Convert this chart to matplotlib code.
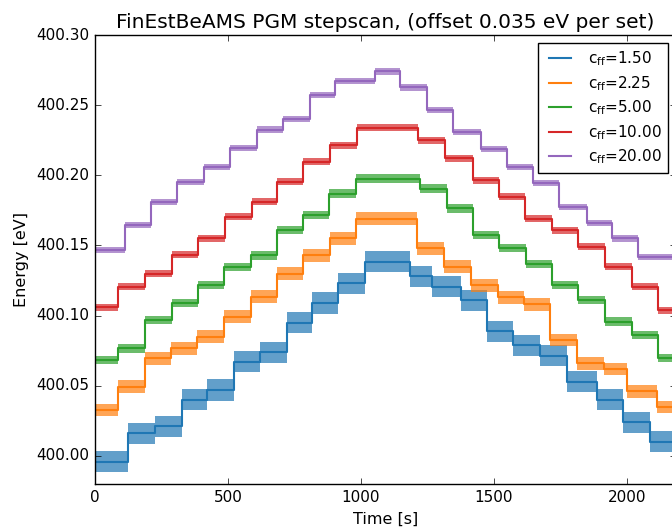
import matplotlib
matplotlib.use('Agg')
import matplotlib.pyplot as plt
from matplotlib.ticker import FormatStrFormatter
import numpy as np

# step start times [s] and energy levels [eV], one set per c_ff
t_end = 2190

t_150 = [124, 225, 327, 421, 522, 620, 722, 816, 913, 1015, 1184, 1268, 1376, 1474, 1571, 1673, 1774, 1887, 1985, 2086]
e_150 = [399.996, 400.016, 400.021, 400.040, 400.047, 400.067, 400.074, 400.095, 400.109, 400.123, 400.1385,
         400.128, 400.1206, 400.111, 400.089, 400.079, 400.0715, 400.053, 400.040, 400.024, 400.010]

t_225 = [87, 188, 285, 383, 485, 586, 684, 782, 883, 981, 1210, 1312, 1413, 1515, 1613, 1710, 1812, 1913, 2000, 2112]
e_225 = [400.0328, 400.0494, 400.0696, 400.0767, 400.085, 400.0992, 400.1135, 400.130, 400.143, 400.155, 400.169,
         400.148, 400.1348, 400.1215, 400.113, 400.108, 400.0826, 400.066, 400.062, 400.046, 400.035]

t_500 = [87, 188, 289, 387, 485, 586, 684, 782, 880, 981, 1222, 1323, 1421, 1519, 1620, 1718, 1816, 1917, 2019, 2116]
e_500 = [400.0684, 400.0767, 400.0969, 400.1088, 400.1218, 400.1348, 400.143, 400.161, 400.1717, 400.187, 400.1977,
         400.1905, 400.1764, 400.1575, 400.148, 400.137, 400.1218, 400.111, 400.0957, 400.086, 400.0696]

t_1000 = [87, 188, 289, 387, 489, 590, 684, 782, 883, 985, 1214, 1316, 1421, 1519, 1616, 1718, 1816, 1917, 2019, 2116]
e_1000 = [400.106, 400.1206, 400.130, 400.1435, 400.155, 400.1705, 400.181, 400.1954, 400.2096, 400.2215, 400.234,
          400.225, 400.212, 400.1966, 400.1847, 400.169, 400.161, 400.149, 400.135, 400.1206, 400.104]

t_2000 = [113, 210, 308, 410, 507, 609, 707, 808, 902, 1052, 1146, 1248, 1346, 1450, 1549, 1646, 1744, 1849, 1943, 2041]
e_2000 = [400.147, 400.1645, 400.181, 400.195, 400.206, 400.2195, 400.2326, 400.240, 400.257, 400.267, 400.274,
          400.2626, 400.2464, 400.231, 400.219, 400.206, 400.1947, 400.1776, 400.166, 400.155, 400.142]

# rough half-width of the scatter around each level
noise = [0.0075, 0.0045, 0.0030, 0.0025, 0.0022]

labels = ['1.50', '2.25', '5.00', '10.00', '20.00']
times = [t_150, t_225, t_500, t_1000, t_2000]
levels = [e_150, e_225, e_500, e_1000, e_2000]
colors = ['#1f77b4', '#ff7f0e', '#2ca02c', '#d62728', '#9467bd']

plt.style.use('classic')

fig = plt.figure(figsize=(6.72, 5.28), dpi=100, facecolor='white')
ax = fig.add_axes([95 / 672, 44 / 528, 581 / 672, 449 / 528])

for t, e, amp, lab, c in zip(times, levels, noise, labels, colors):
    x = np.array([0] + t + [t_end], dtype=float)
    y = np.array(e + [e[-1]])
    ax.fill_between(x, y - amp, y + amp, step='post', color=c, alpha=0.7, lw=0)
    ax.step(x, y, where='post', color=c, lw=1.5,
            label=r'$\mathregular{c_{ff}}$=' + lab)

ax.set_xlim(0, 2184)
ax.set_ylim(399.98, 400.30)
ax.set_xticks([0, 500, 1000, 1500, 2000])
ax.set_yticks(np.arange(400.00, 400.301, 0.05))
ax.yaxis.set_major_formatter(FormatStrFormatter('%.2f'))
ax.tick_params(labelsize=11)

ax.set_xlabel('Time [s]', fontsize=11.5)
ax.set_ylabel('Energy [eV]', fontsize=11.5)
ax.set_title('FinEstBeAMS PGM stepscan, (offset 0.035 eV per set)', fontsize=14.5)

leg = ax.legend(loc='upper right', fontsize=11, handlelength=2.0, labelspacing=0.38,
                borderpad=0.45, frameon=True)
leg.get_frame().set_edgecolor('black')

fig.savefig('out.png', dpi=100, facecolor='white')
